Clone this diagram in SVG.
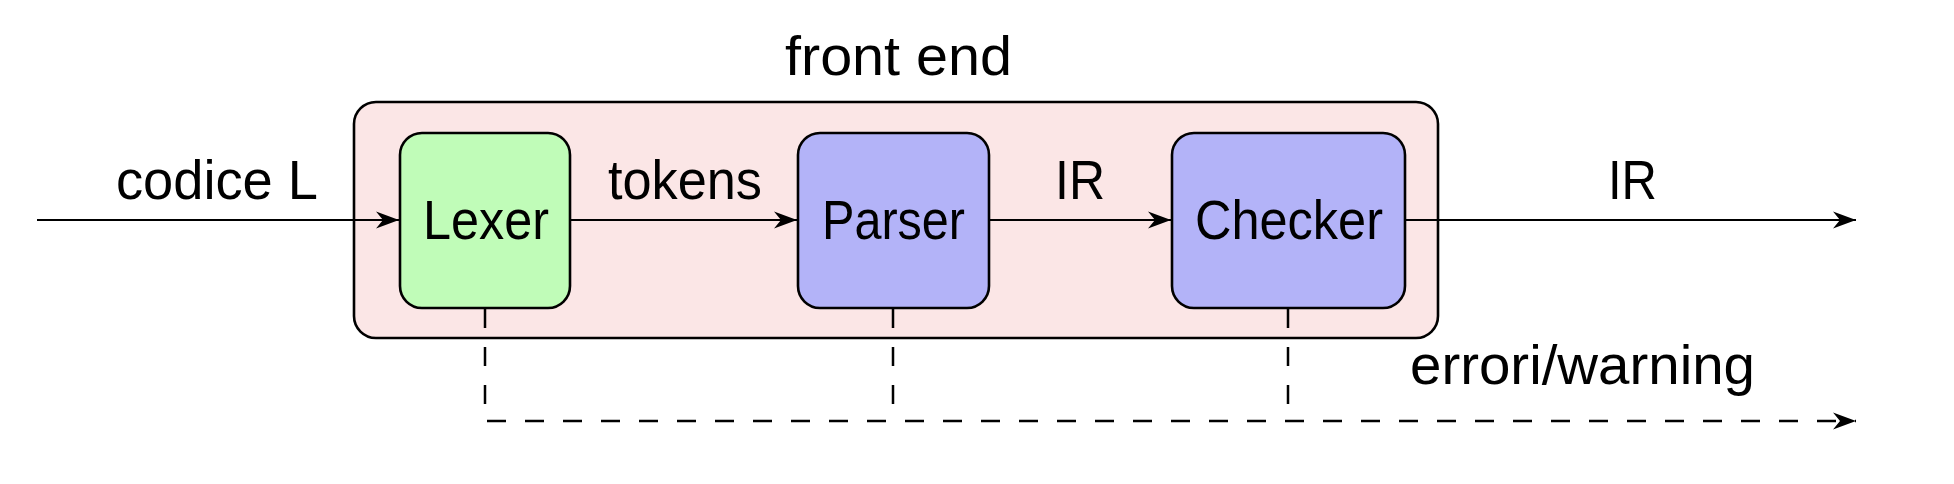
<svg xmlns="http://www.w3.org/2000/svg" width="1954" height="484" viewBox="0 0 1954 484">
<style>
.t{font-family:"Liberation Sans",Arial,sans-serif;font-size:56px;fill:#000}
.box{stroke:#000;stroke-width:2.6}
.ln{fill:none;stroke:#000;stroke-width:2.2}
.dash{stroke-dasharray:19 19;stroke-width:2.5}
</style>
<defs>
<marker id="ah" markerUnits="userSpaceOnUse" markerWidth="30" markerHeight="24" viewBox="-25 -12 30 24" refX="0" refY="0" orient="auto">
<path d="M0,0 L-23,-8.5 L-16,0 L-23,8.5 Z" fill="#000"/>
</marker>
</defs>
<rect width="1954" height="484" fill="#fff"/>
<g id="frontend">
<rect class="box" x="354" y="102" width="1084" height="236" rx="22" fill="#fbe6e6"/>
<text class="t" x="785" y="75" textLength="227" lengthAdjust="spacingAndGlyphs">front end</text>
</g>
<g id="connectors">
<path class="ln dash" d="M485,309 V421 H1856" marker-end="url(#ah)"/>
<path class="ln dash" d="M893,309 V421"/>
<path class="ln dash" d="M1288,309 V421"/>
<path class="ln" d="M37,220 H399" marker-end="url(#ah)"/>
<path class="ln" d="M570,220 H797" marker-end="url(#ah)"/>
<path class="ln" d="M989,220 H1171" marker-end="url(#ah)"/>
<path class="ln" d="M1405,220 H1856" marker-end="url(#ah)"/>
<text class="t" x="116" y="199" textLength="202" lengthAdjust="spacingAndGlyphs">codice L</text>
<text class="t" x="608" y="199" textLength="154" lengthAdjust="spacingAndGlyphs">tokens</text>
<text class="t" x="1055" y="199" textLength="50" lengthAdjust="spacingAndGlyphs">IR</text>
<text class="t" x="1608" y="199" textLength="49" lengthAdjust="spacingAndGlyphs">IR</text>
<text class="t" x="1410" y="384" textLength="345" lengthAdjust="spacingAndGlyphs">errori/warning</text>
</g>
<g id="lexer">
<rect class="box" x="400" y="133" width="170" height="175" rx="22" fill="#c0fcb8"/>
<text class="t" x="423" y="239" textLength="126" lengthAdjust="spacingAndGlyphs">Lexer</text>
</g>
<g id="parser">
<rect class="box" x="798" y="133" width="191" height="175" rx="22" fill="#b3b3f8"/>
<text class="t" x="822" y="239" textLength="143" lengthAdjust="spacingAndGlyphs">Parser</text>
</g>
<g id="checker">
<rect class="box" x="1172" y="133" width="233" height="175" rx="22" fill="#b3b3f8"/>
<text class="t" x="1195" y="239" textLength="188" lengthAdjust="spacingAndGlyphs">Checker</text>
</g>
</svg>
